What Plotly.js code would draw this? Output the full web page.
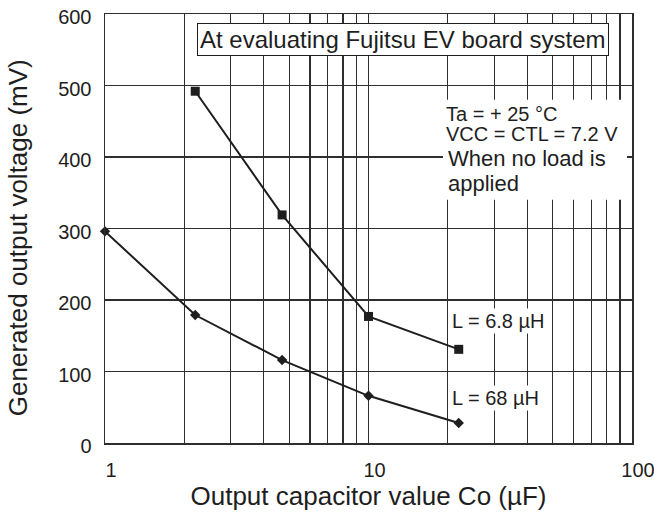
<!DOCTYPE html>
<html>
<head>
<meta charset="utf-8">
<script src="https://cdn.plot.ly/plotly-3.0.1.min.js"></script>
<style>html,body{margin:0;padding:0;background:#fff;}#chart{width:654px;height:523px;}</style>
</head>
<body>
<div id="chart"></div>
<script>
// ---- data ----
const capL68 = [1, 2.2, 4.7, 10, 22];
const voltL68 = [296, 179, 116, 66, 28];
const capL6p8 = [2.2, 4.7, 10, 22];
const voltL6p8 = [492, 319, 177, 131];
const xTickVals = [1,2,3,4,5,6,7,8,9,10,20,30,40,50,60,70,80,90,100];
const xTickText = ['1','','','','','','','','','10','','','','','','','','','100'];
const yTickVals = [0,100,200,300,400,500,600];

// ---- layout geometry ----
const W = 654, H = 523;
const L = 105, R = 632, T = 14.3, B = 443.3;
const px = x => (x - L) / (R - L);
const py = y => (B - y) / (B - T);
const FONT = 'Liberation Sans, Arial, Helvetica, sans-serif';
const INK = '#1e1e1e';
const GRID = '#2e2e2e';

const traces = [
  {x: capL6p8, y: voltL6p8, mode: 'lines+markers', name: 'L = 6.8 µH',
   line: {color: INK, width: 2}, marker: {symbol: 'square', size: 9, color: INK}, cliponaxis: false},
  {x: capL68, y: voltL68, mode: 'lines+markers', name: 'L = 68 µH',
   line: {color: INK, width: 2}, marker: {symbol: 'diamond', size: 8, color: INK}, cliponaxis: false}
];

const layout = {
  width: W, height: H,
  margin: {l: L, r: W - R, t: T, b: H - B, pad: 0},
  paper_bgcolor: '#fff', plot_bgcolor: '#fff',
  showlegend: false,
  font: {family: FONT, color: INK},
  xaxis: {
    type: 'log', range: [0, 2], tickmode: 'array', tickvals: xTickVals, ticktext: xTickText,
    showgrid: true, gridcolor: GRID, gridwidth: 1.2, zeroline: false,
    showline: true, linecolor: GRID, linewidth: 1.5, mirror: true,
    ticks: '', ticklabelstandoff: 8, ticklabelshift: 6, ticklabeloverflow: 'allow',
    tickfont: {size: 20, family: FONT, color: INK},
    title: {text: 'Output capacitor value Co (µF)', font: {size: 26, family: FONT, color: INK}, standoff: 7},
    automargin: false, fixedrange: true
  },
  yaxis: {
    range: [0, 600], tickmode: 'array', tickvals: yTickVals,
    showgrid: true, gridcolor: GRID, gridwidth: 1.2, zeroline: false,
    showline: true, linecolor: GRID, linewidth: 1.5, mirror: true,
    ticks: '', ticklabelstandoff: 8, ticklabelshift: 3,
    tickfont: {size: 20, family: FONT, color: INK},
    automargin: false, fixedrange: true
  },
  shapes: [
    {type: 'rect', xref: 'paper', yref: 'paper', x0: px(443), x1: px(627), y0: py(200), y1: py(100),
     fillcolor: '#fff', line: {width: 0}, layer: 'above'}
  ],
  annotations: [
    {xref: 'paper', yref: 'paper', x: px(18), y: py(238.5), xanchor: 'center', yanchor: 'middle', textangle: -90,
     text: 'Generated output voltage (mV)', showarrow: false, font: {size: 26, family: FONT, color: INK}},
    {xref: 'paper', yref: 'paper', x: px(403), y: py(40), xanchor: 'center', yanchor: 'middle',
     text: 'At evaluating Fujitsu EV board system', showarrow: false,
     font: {size: 24, family: FONT, color: INK}, bgcolor: '#fff', bordercolor: INK, borderwidth: 1, borderpad: 2},
    {xref: 'paper', yref: 'paper', x: px(444), y: py(114.5), xanchor: 'left', yanchor: 'middle',
     text: 'Ta = + 25 °C', showarrow: false, font: {size: 20, family: FONT, color: INK}},
    {xref: 'paper', yref: 'paper', x: px(444), y: py(134), xanchor: 'left', yanchor: 'middle',
     text: 'VCC = CTL = 7.2 V', showarrow: false, font: {size: 20, family: FONT, color: INK}},
    {xref: 'paper', yref: 'paper', x: px(446), y: py(159), xanchor: 'left', yanchor: 'middle',
     text: 'When no load is', showarrow: false, font: {size: 22, family: FONT, color: INK}},
    {xref: 'paper', yref: 'paper', x: px(446), y: py(184), xanchor: 'left', yanchor: 'middle',
     text: 'applied', showarrow: false, font: {size: 22, family: FONT, color: INK}},
    {xref: 'paper', yref: 'paper', x: px(450), y: py(321), xanchor: 'left', yanchor: 'middle',
     text: 'L = 6.8 µH', showarrow: false, font: {size: 20, family: FONT, color: INK}, bgcolor: '#fff', borderpad: 1},
    {xref: 'paper', yref: 'paper', x: px(450), y: py(398), xanchor: 'left', yanchor: 'middle',
     text: 'L = 68 µH', showarrow: false, font: {size: 20, family: FONT, color: INK}, bgcolor: '#fff', borderpad: 1}
  ]
};

Plotly.newPlot('chart', traces, layout, {staticPlot: true, displayModeBar: false});
</script>
</body>
</html>
